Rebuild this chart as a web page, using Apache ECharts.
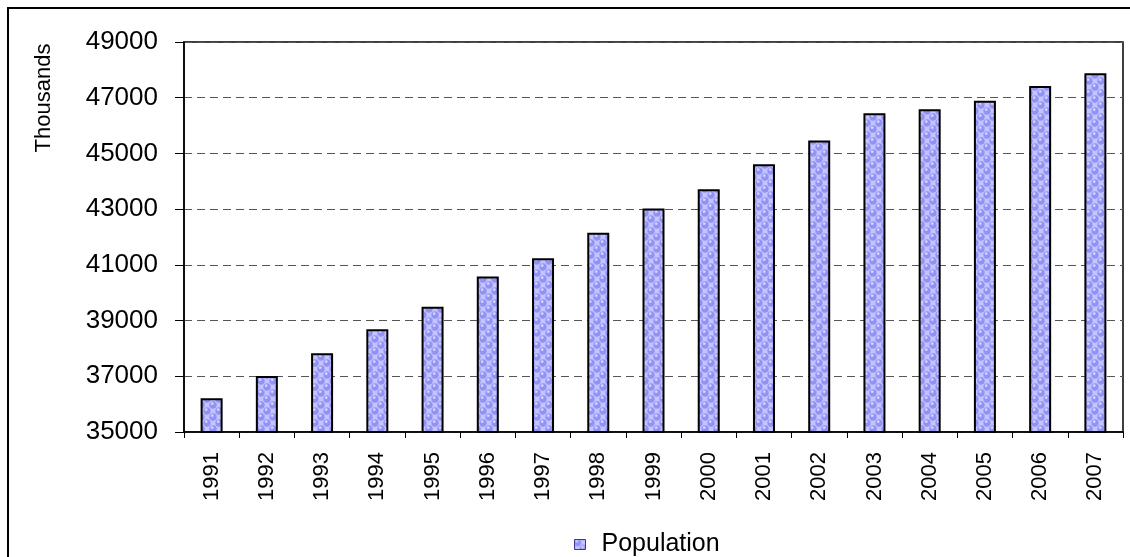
<!DOCTYPE html>
<html>
<head>
<meta charset="utf-8">
<script src="https://cdn.jsdelivr.net/npm/echarts@6/dist/echarts.min.js"></script>
<style>
  html, body { margin: 0; padding: 0; background: #fff; }
  #chart { width: 1130px; height: 557px; }
</style>
</head>
<body>
<div id="chart"></div>
<script>
// Population by year, in thousands
const years = ['1991', '1992', '1993', '1994', '1995', '1996', '1997', '1998', '1999',
               '2000', '2001', '2002', '2003', '2004', '2005', '2006', '2007'];
const population = [36210, 37010, 37830, 38690, 39500, 40580, 41240, 42150, 43020,
                    43710, 44610, 45460, 46440, 46590, 46890, 47420, 47880];
const yTicks = { min: 35000, max: 49000, step: 2000 };
const seriesName = 'Population';
const unitLabel = 'Thousands';

// Bubble texture used to fill the bars: lavender spheres on a checkered ground
function bubbleTile() {
  const s = 12;
  const h = s / 2;
  const c = document.createElement('canvas');
  c.width = s; c.height = s;
  const g = c.getContext('2d');
  g.fillStyle = '#ffffff';
  g.fillRect(0, 0, s, s);
  g.fillStyle = '#c4c4ff';
  g.fillRect(h, 0, h, h);
  g.fillRect(0, h, h, h);
  const base = [[h / 2, h / 2], [h * 1.5, h * 1.5]];
  const centers = [];
  base.forEach(([x, y]) => {
    for (let dx = -s; dx <= s; dx += s) {
      for (let dy = -s; dy <= s; dy += s) centers.push([x + dx, y + dy]);
    }
  });
  centers.forEach(([x, y]) => {
    g.beginPath();
    g.arc(x, y, 3.7, 0, Math.PI * 2);
    g.fillStyle = '#9292f4';
    g.fill();
    g.beginPath();
    g.arc(x - 0.8, y - 1.3, 1.4, 0, Math.PI * 2);
    g.fillStyle = '#d2d2ff';
    g.fill();
  });
  return c;
}
const barFill = { image: bubbleTile(), repeat: 'repeat' };

const chart = echarts.init(document.getElementById('chart'), null, { renderer: 'canvas' });
const font = '"Liberation Sans", Arial, sans-serif';

chart.setOption({
  animation: false,
  backgroundColor: '#ffffff',
  grid: { left: 184, right: 7, top: 42, bottom: 125, show: true, borderColor: '#000', borderWidth: 1.5, containLabel: false },
  legend: {
    data: [{ name: seriesName, icon: 'rect', itemStyle: { color: barFill, borderColor: '#3c3c8c', borderWidth: 1 } }],
    left: 569,
    top: 527,
    itemWidth: 11,
    itemHeight: 10,
    textStyle: { fontFamily: font, fontSize: 25, color: '#000', padding: [0, 0, 0, 11] },
    selectedMode: false
  },
  xAxis: {
    type: 'category',
    data: years,
    boundaryGap: true,
    axisLine: { lineStyle: { color: '#000', width: 1.5 } },
    axisTick: { show: true, inside: false, length: 6, alignWithLabel: false, lineStyle: { color: '#000', width: 1 } },
    axisLabel: { rotate: 90, margin: 20, fontFamily: font, fontSize: 22, color: '#000', interval: 0 }
  },
  yAxis: {
    type: 'value',
    min: yTicks.min,
    max: yTicks.max,
    interval: yTicks.step,
    axisLine: { show: true, lineStyle: { color: '#000', width: 1.5 } },
    axisTick: { show: true, length: 9, lineStyle: { color: '#000', width: 1 } },
    axisLabel: { margin: 26, fontFamily: font, fontSize: 26, color: '#000', formatter: v => String(v) },
    splitLine: { show: true, lineStyle: { color: '#555', type: [8, 5], width: 1 } }
  },
  series: [{
    name: seriesName,
    type: 'bar',
    data: population,
    barWidth: 22,
    itemStyle: { color: barFill, borderColor: '#000', borderWidth: 2 }
  }],
  graphic: [
    {
      type: 'rect',
      shape: { x: 8, y: 8, width: 1300, height: 700 },
      style: { fill: 'none', stroke: '#000', lineWidth: 2 },
      silent: true
    },
    {
      type: 'text',
      x: 44,
      y: 98,
      rotation: Math.PI / 2,
      style: { text: unitLabel, fontFamily: font, fontSize: 22, fill: '#000', align: 'center', verticalAlign: 'middle' },
      silent: true
    }
  ]
});
</script>
</body>
</html>
